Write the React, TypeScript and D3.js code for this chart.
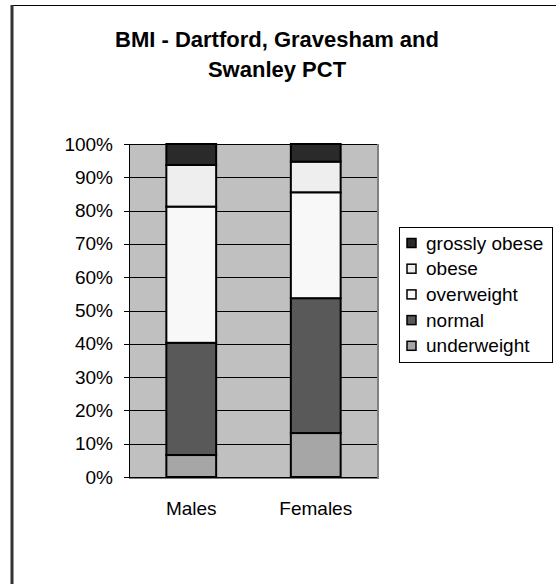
import * as d3 from "d3";

// categories and stacked shares (%), bottom to top
const categories = ["Males", "Females"];
const seriesNames = ["underweight", "normal", "overweight", "obese", "grossly obese"];
const underweight = [6.6, 13.2];
const normal = [33.7, 40.5];
const overweight = [40.9, 31.8];
const obese = [12.5, 9.2];
const grosslyObese = [6.3, 5.3];
const yTicks = [0, 10, 20, 30, 40, 50, 60, 70, 80, 90, 100];

const seriesColors = ["#a6a6a6", "#595959", "#f8f8f8", "#eeeeee", "#2a2a2a"];

const W = 556;
const H = 584;
const plot = { left: 129, right: 378, top: 144, bottom: 477 };
const font = "Arial, 'Liberation Sans', sans-serif";

const App = () => {
  const values = [underweight, normal, overweight, obese, grosslyObese];
  const rows = categories.map((c, i) => {
    const r: Record<string, number | string> = { cat: c };
    seriesNames.forEach((s, k) => (r[s] = values[k][i]));
    return r;
  });
  const stacked = d3.stack<any>().keys(seriesNames)(rows);

  const x = d3
    .scaleBand()
    .domain(categories)
    .range([plot.left, plot.right])
    .paddingInner(0.6)
    .paddingOuter(0.3);
  const y = d3.scaleLinear().domain([0, 100]).range([plot.bottom, plot.top]);

  // legend lists top series first
  const legendOrder = [...seriesNames].reverse();
  const legendColors = [...seriesColors].reverse();

  return (
    <svg
      width={W}
      height={H}
      style={{ position: "absolute", left: 0, top: 0, background: "#fff" }}
      fontFamily={font}
    >
      {/* chart frame */}
      <line x1={12} y1={5.5} x2={W} y2={5.5} stroke="#000" strokeWidth={1} />
      <line x1={12} y1={5} x2={12} y2={H} stroke="#333" strokeWidth={3} />

      <text x={277} y={47} textAnchor="middle" fontSize={22} fontWeight="bold">
        BMI - Dartford, Gravesham and
      </text>
      <text x={277} y={77} textAnchor="middle" fontSize={22} fontWeight="bold">
        Swanley PCT
      </text>

      {/* plot area */}
      <rect
        x={plot.left}
        y={plot.top}
        width={plot.right - plot.left}
        height={plot.bottom - plot.top}
        fill="#c0c0c0"
      />
      <line x1={plot.right} y1={plot.top} x2={plot.right} y2={plot.bottom + 1} stroke="#808080" strokeWidth={2} />
      <line x1={plot.left} y1={plot.bottom + 1} x2={plot.right + 1} y2={plot.bottom + 1} stroke="#808080" strokeWidth={2} />

      {yTicks.map((t) => (
        <g key={t}>
          <line
            x1={plot.left - 5}
            x2={plot.right - 1}
            y1={Math.round(y(t)) + 0.5}
            y2={Math.round(y(t)) + 0.5}
            stroke="#000"
            strokeWidth={1}
          />
          <text x={113} y={y(t) + 6.5} textAnchor="end" fontSize={19}>
            {t}%
          </text>
        </g>
      ))}
      <line x1={plot.left + 0.5} x2={plot.left + 0.5} y1={plot.top} y2={plot.bottom} stroke="#000" strokeWidth={1} />

      {stacked.map((layer, k) =>
        layer.map((d, i) => (
          <rect
            key={`${k}-${i}`}
            x={x(categories[i])!}
            y={y(d[1])}
            width={x.bandwidth()}
            height={y(d[0]) - y(d[1])}
            fill={seriesColors[k]}
            stroke="#000"
            strokeWidth={2}
          />
        ))
      )}

      {categories.map((c) => (
        <text key={c} x={x(c)! + x.bandwidth() / 2} y={515} textAnchor="middle" fontSize={19}>
          {c}
        </text>
      ))}

      {/* legend */}
      <rect x={399.5} y={227.5} width={153} height={135} fill="#fff" stroke="#000" strokeWidth={1} />
      {legendOrder.map((s, i) => {
        const cy = 243 + i * 25.7;
        return (
          <g key={s}>
            <rect x={407} y={cy - 4.5} width={9} height={9} fill={legendColors[i]} stroke="#000" strokeWidth={1.5} />
            <text x={426} y={cy + 6.5} fontSize={19}>
              {s}
            </text>
          </g>
        );
      })}
    </svg>
  );
};

export default App;
